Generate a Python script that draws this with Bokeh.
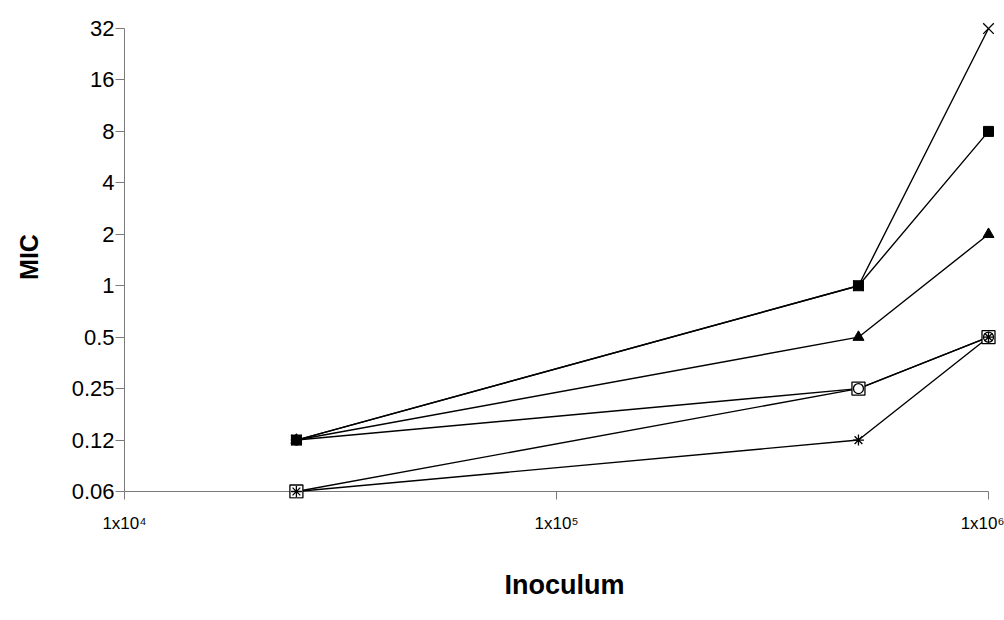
from bokeh.plotting import figure
from bokeh.models import FixedTicker, Range1d
from bokeh.embed import file_html
from bokeh.resources import INLINE

# ---- data ----
inoculum = [2.5e4, 5e5, 1e6]
mic_cross = [0.125, 1, 32]
mic_filled_square = [0.125, 1, 8]
mic_triangle = [0.125, 0.5, 2]
mic_circle = [0.125, 0.25, 0.5]
mic_open_square = [0.0625, 0.25, 0.5]
mic_asterisk = [0.0625, 0.125, 0.5]

y_ticks = [0.0625, 0.125, 0.25, 0.5, 1, 2, 4, 8, 16, 32]
y_tick_labels = ["0.06", "0.12", "0.25", "0.5", "1", "2", "4", "8", "16", "32"]
x_ticks = [1e4, 1e5, 1e6]
x_tick_labels = ["1x10\u2074", "1x10\u2075", "1x10\u2076"]

FONT = "Liberation Sans"
AXIS_GREY = "#7a7a7a"
PX_PER_DOUBLING = 51.44
PAD = 7  # extra px below the 0.06 level so the markers there are not clipped

p = figure(width=1004, height=620, x_axis_type="log", y_axis_type="log",
           x_range=Range1d(1e4, 10 ** (4 + 880 / 432)),
           y_range=Range1d(2 ** (-4 - PAD / PX_PER_DOUBLING),
                           2 ** (-4 + 476 / PX_PER_DOUBLING)),
           output_backend="svg", toolbar_location=None,
           min_border_left=124, min_border_right=0,
           min_border_top=15, min_border_bottom=129 - PAD)
p.outline_line_color = None
p.xgrid.grid_line_color = None
p.ygrid.grid_line_color = None
p.background_fill_color = "white"
p.border_fill_color = "white"

# axes
p.xaxis.ticker = FixedTicker(ticks=x_ticks, minor_ticks=[])
p.yaxis.ticker = FixedTicker(ticks=y_ticks, minor_ticks=[])
p.xaxis.major_label_overrides = dict(zip(x_ticks, x_tick_labels))
p.yaxis.major_label_overrides = dict(zip(y_ticks, y_tick_labels))
p.xaxis.bounds = (x_ticks[0], x_ticks[-1])
p.yaxis.bounds = (y_ticks[0], y_ticks[-1])
for ax in (p.xaxis, p.yaxis):
    ax.axis_line_color = AXIS_GREY
    ax.axis_line_width = 1
    ax.major_tick_line_color = AXIS_GREY
    ax.minor_tick_line_color = None
    ax.major_label_text_font = FONT
    ax.major_label_text_color = "black"
    ax.axis_label_text_font = FONT
    ax.axis_label_text_font_style = "bold"
    ax.axis_label_text_color = "black"
p.yaxis.major_tick_in = 0
p.yaxis.major_tick_out = 9
p.yaxis.major_label_standoff = 1
p.yaxis.major_label_text_font_size = "22px"
p.yaxis.axis_label = "MIC"
p.yaxis.axis_label_text_font_size = "25px"
p.yaxis.axis_label_standoff = 26

# x axis: the drawn base line sits at the 0.06 level, ticks reach down from it
p.xaxis.axis_line_color = None
p.xaxis.major_tick_in = PAD
p.xaxis.major_tick_out = 1
p.xaxis.major_label_standoff = 14
p.xaxis.major_label_text_font_size = "17px"
p.xaxis.axis_label = "Inoculum"
p.xaxis.axis_label_text_font_size = "27px"
p.xaxis.axis_label_standoff = 34
p.segment(x0=[x_ticks[0]], y0=[y_ticks[0]], x1=[x_ticks[-1]], y1=[y_ticks[0]],
          line_color=AXIS_GREY, line_width=1)

# lines
for ys in (mic_cross, mic_filled_square, mic_triangle, mic_circle,
           mic_open_square, mic_asterisk):
    p.line(inoculum, ys, line_color="black", line_width=1.4)

# markers
p.scatter(inoculum, mic_open_square, marker="square", size=13,
          fill_color="white", line_color="black", line_width=1.3)
p.scatter(inoculum, mic_circle, marker="circle", size=10,
          fill_color=None, line_color="black", line_width=1.3)
p.scatter(inoculum, mic_asterisk, marker="asterisk", size=11,
          line_color="black", line_width=1.3)
p.scatter(inoculum, mic_triangle, marker="triangle", size=11,
          fill_color="black", line_color="black")
p.scatter(inoculum, mic_filled_square, marker="square", size=10,
          fill_color="black", line_color="black")
p.scatter(inoculum, mic_cross, marker="x", size=15,
          line_color="black", line_width=1.3)

open("out.html", "w").write(file_html(p, INLINE))
